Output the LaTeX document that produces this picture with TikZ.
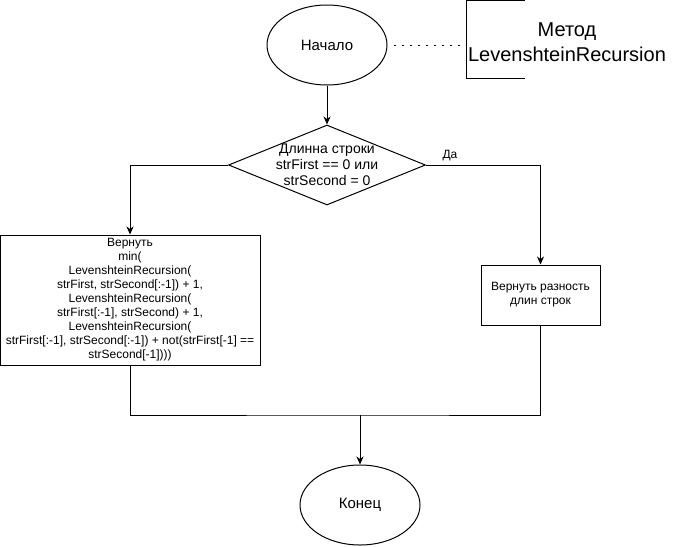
\documentclass[tikz,border=0pt]{standalone}
\usepackage{fontspec}
\setmainfont{Liberation Sans}
\usetikzlibrary{shapes.geometric,arrows.meta}
\begin{document}
\begin{tikzpicture}[x=1pt,y=-1pt,line width=1pt,
  term/.style={ellipse,draw,minimum width=120pt,minimum height=80pt,inner sep=0pt,font=\fontsize{15}{18}\selectfont},
  proc/.style={rectangle,draw,inner sep=0pt,align=center,font=\fontsize{12}{14}\selectfont},
  dec/.style={diamond,draw,inner sep=0pt,minimum width=197pt,minimum height=80pt},
  arr/.style={-{Stealth[length=8pt,width=7pt,inset=2.5pt]}},
  lbl/.style={inner sep=0pt,font=\fontsize{12}{14}\selectfont}]
\useasboundingbox (0,0) rectangle (676,546);

\node[term] (start) at (327,45) {Начало};
\node[dec] (cond) at (327,165) {};
\node[align=center,inner sep=0pt,font=\fontsize{14}{16}\selectfont] (condtext) at (cond.center) {Длинна строки\\strFirst == 0 или\\strSecond = 0};
\node[proc,minimum width=260pt,minimum height=130pt] (ret) at (130,300) {Вернуть\\min(\\LevenshteinRecursion(\\strFirst, strSecond[:-1]) + 1,\\LevenshteinRecursion(\\strFirst[:-1], strSecond) + 1,\\LevenshteinRecursion(\\strFirst[:-1], strSecond[:-1]) + not(strFirst[-1] ==\\strSecond[-1])))};
\node[proc,minimum width=119pt,minimum height=60pt] (diff) at (540.5,295) {Вернуть разность\\длин строк};
\node[term] (end) at (360,505) {Конец};
\node[lbl] (yes) at (450,156) {Да};

\draw (525,0.5) -- (466,0.5) -- (466,78) -- (525,78);
\coordinate (br) at (466,45);
\node[font=\fontsize{20}{25}\selectfont,align=center,inner sep=0pt] (note) at (567,42) {Метод\\LevenshteinRecursion};
\draw[dash pattern=on 2pt off 6pt,dash phase=2pt] (start.east) -- (br);

\draw[arr] (start.south) -- (cond.north);
\draw[arr] (cond.west) -| (ret.north);
\draw[arr] (cond.east) -| (diff.north);
\coordinate (m) at (360,415);
\draw (ret.south) |- (m) -| (diff.south);
\draw[arr] (m) -- (end.north);
\end{tikzpicture}
\end{document}
